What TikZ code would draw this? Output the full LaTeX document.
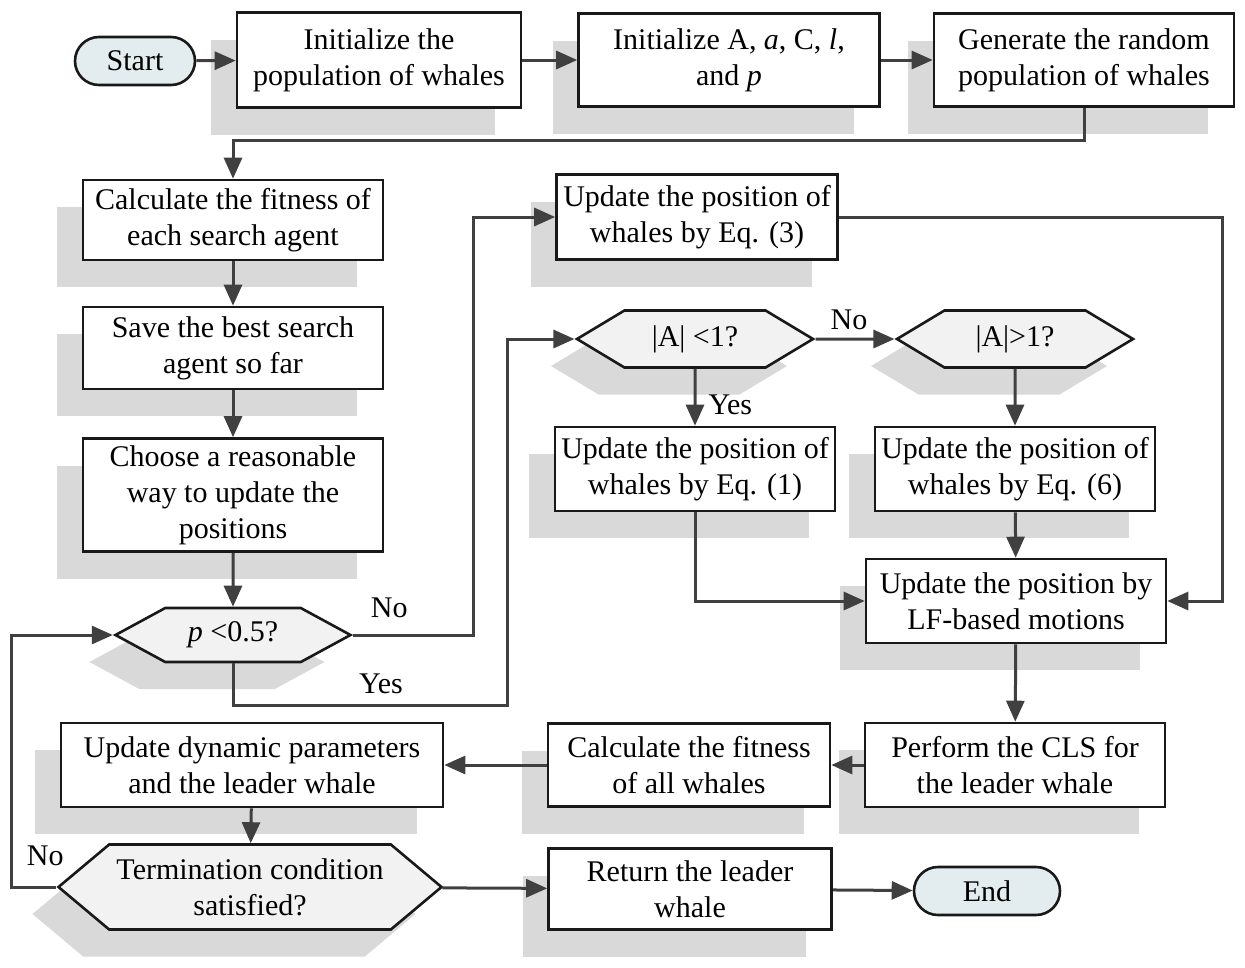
\documentclass[tikz,border=0pt]{standalone}
\usepackage{fontspec}
\setmainfont{Liberation Serif}
\usetikzlibrary{arrows.meta}
\usetikzlibrary{shapes.symbols}
\usetikzlibrary{shapes.misc}
\usetikzlibrary{shadows}
\definecolor{linegray}{HTML}{404040}
\definecolor{shadegray}{HTML}{D9D9D9}
\definecolor{hexfill}{HTML}{F2F2F2}
\definecolor{endfill}{HTML}{E3EDF0}

\begin{document}
\begin{tikzpicture}[x=1pt, y=-1pt,
        every node/.style={font=\fontsize{30}{36}\selectfont, align=center, inner sep=2pt},
        shade/.style={general shadow={fill=shadegray, shadow xshift=-26pt, shadow yshift=-27pt}},
        box/.style={draw=black!90, line width=2.6pt, fill=white, shade},
        hexa/.style={signal, signal to=west and east, draw=black!90, line width=2.6pt, fill=hexfill, shade},
        term/.style={rounded rectangle, draw=black!90, line width=2.6pt, fill=endfill},
        arr/.style={draw=linegray, line width=3pt, -{Triangle[length=21pt, width=18pt]}},
        lbl/.style={font=\fontsize{30}{36}\selectfont, inner sep=4pt}
    ]
        \useasboundingbox (0,0) rectangle (1245,967);
        \node[term, minimum width=124pt, minimum height=48pt] (start) at (135,61) {Start};
        \node[box, minimum width=284pt, minimum height=95pt] (init) at (379,60) {Initialize the\\population of whales};
        \node[box, minimum width=301pt, minimum height=93pt] (param) at (729,60) {Initialize A, \textit{a}, C, \textit{l},\\and \textit{p}};
        \node[box, minimum width=300pt, minimum height=93pt] (gen) at (1084,60) {Generate the random\\population of whales};
        \node[box, minimum width=300pt, minimum height=80pt] (fit) at (233,220) {Calculate the fitness of\\each search agent};
        \node[box, minimum width=300pt, minimum height=82pt] (best) at (233,348) {Save the best search\\agent so far};
        \node[box, minimum width=300pt, minimum height=113pt] (choose) at (233,495) {Choose a reasonable\\way to update the\\positions};
        \node[hexa, signal pointer angle=57, minimum width=235pt, minimum height=54pt] (pcond) at (233,635) {\textit{p} <0.5?};
        \node[box, minimum width=281pt, minimum height=85pt] (upd3) at (697,217) {Update the position of\\whales by Eq. (3)};
        \node[hexa, signal pointer angle=62, minimum width=236pt, minimum height=57pt] (acond1) at (695,339) {|A| <1?};
        \node[hexa, signal pointer angle=62, minimum width=236pt, minimum height=57pt] (acond2) at (1015,339) {|A|>1?};
        \node[box, minimum width=280pt, minimum height=84pt] (upd1) at (695,469) {Update the position of\\whales by Eq. (1)};
        \node[box, minimum width=280pt, minimum height=84pt] (upd6) at (1015,469) {Update the position of\\whales by Eq. (6)};
        \node[box, minimum width=300pt, minimum height=84pt] (lf) at (1016,601) {Update the position by\\LF-based motions};
        \node[box, minimum width=300pt, minimum height=84pt] (cls) at (1015,765) {Perform the CLS for\\the leader whale};
        \node[box, minimum width=282pt, minimum height=83pt] (fitall) at (689,765) {Calculate the fitness\\of all whales};
        \node[box, minimum width=382pt, minimum height=84pt] (dyn) at (252,765) {Update dynamic parameters\\and the leader whale};
        \node[hexa, signal pointer angle=80, minimum width=383pt, minimum height=85pt] (stopcond) at (250,887) {Termination condition\\satisfied?};
        \node[box, minimum width=283pt, minimum height=81pt] (ret) at (690,889) {Return the leader\\whale};
        \node[term, minimum width=150pt, minimum height=48pt] (stop) at (987,891) {End};
        \draw[arr] (start) -- (init);
        \draw[arr] (init) -- (param);
        \draw[arr] (param) -- (gen);
        \draw[arr] (gen.south) -- ++(0,33) -| (fit.north);
        \draw[arr] (fit) -- (best);
        \draw[arr] (best) -- (choose);
        \draw[arr] (choose) -- (pcond);
        \draw[arr] (pcond.east) -- node[lbl, pos=0.3, above, yshift=12pt] {No} ++(120,0) |- (upd3.west);
        \draw[arr] (pcond.south) |- node[lbl, pos=0.77, above, yshift=6pt] {Yes} (507,705) |- (acond1.west);
        \draw[arr] (acond1) -- node[lbl, above, xshift=-6pt, yshift=4pt] {No} (acond2);
        \draw[arr] (acond1) -- node[lbl, right, xshift=8pt, yshift=-8pt] {Yes} (upd1);
        \draw[arr] (acond2) -- (upd6);
        \draw[arr] (upd1.south) |- (lf.west);
        \draw[arr] (upd6) -- (lf);
        \draw[arr] (upd3.east) -- (1222,217) |- (lf.east);
        \draw[arr] (lf) -- (cls);
        \draw[arr] (cls) -- (fitall);
        \draw[arr] (fitall) -- (dyn);
        \draw[arr] (dyn) -- (stopcond);
        \draw[arr] (stopcond.west) -- node[lbl, pos=0.25, above, yshift=16pt] {No} ++(-45,0) |- (pcond.west);
        \draw[arr] (stopcond) -- (ret);
        \draw[arr] (ret) -- (stop);
    \end{tikzpicture}
\end{document}
